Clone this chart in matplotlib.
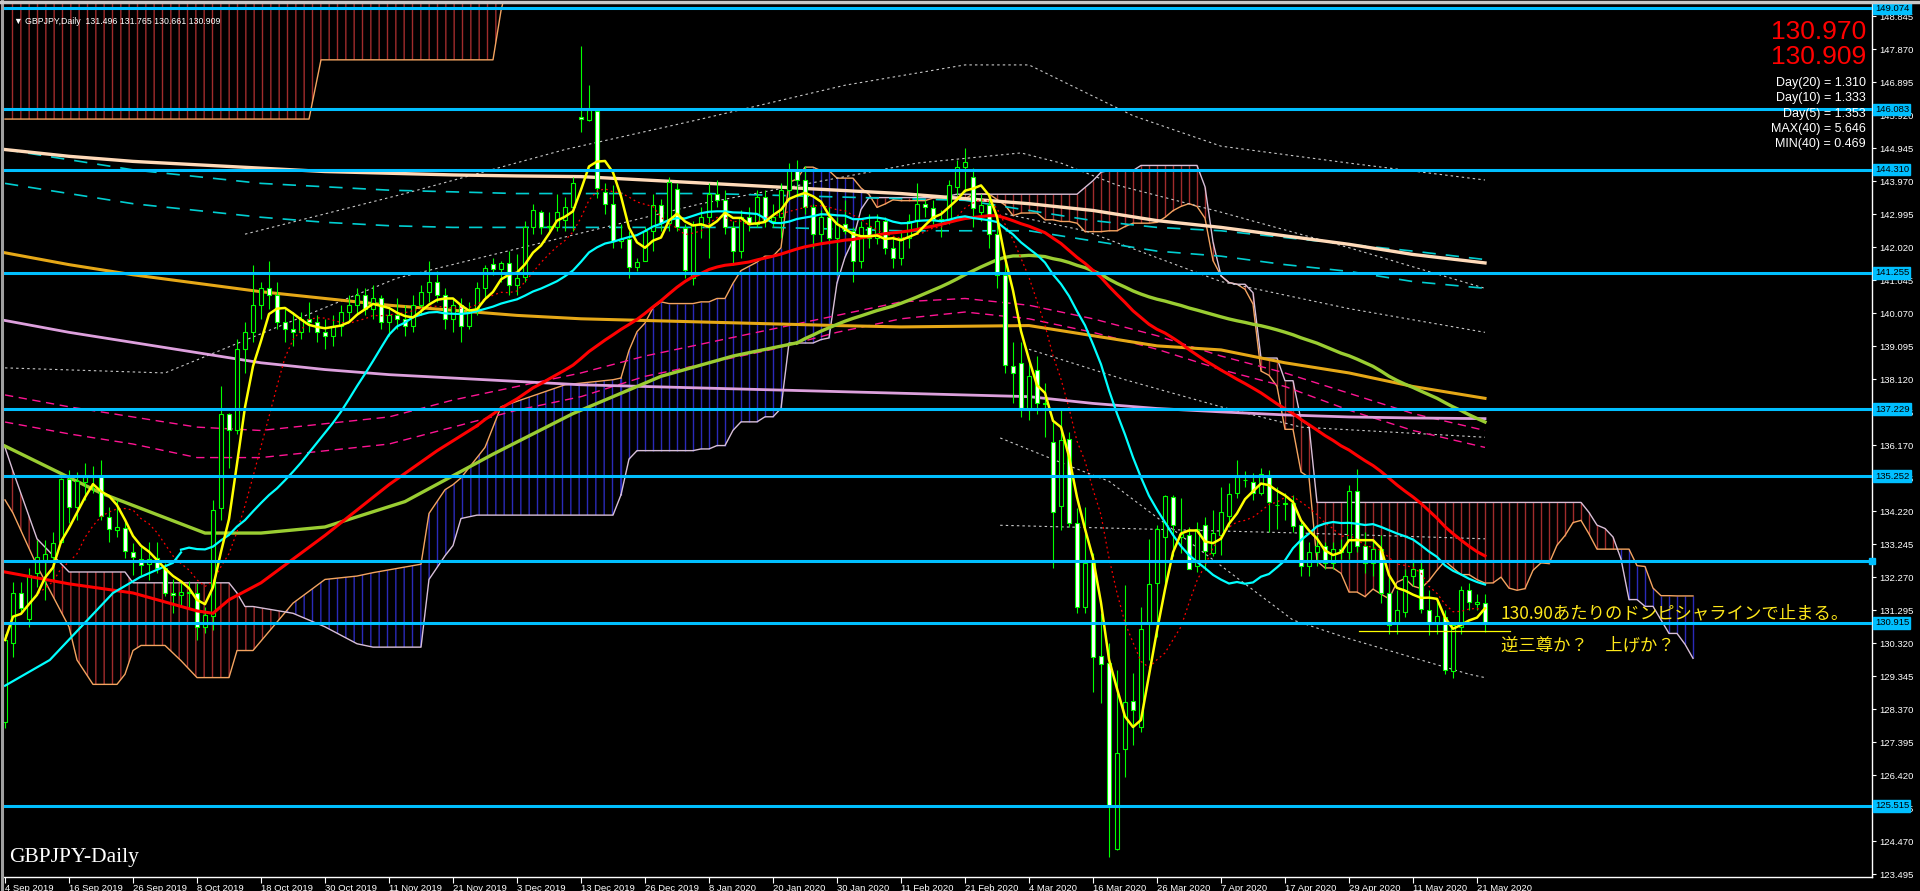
import numpy as np
import pandas as pd
import matplotlib
matplotlib.use('Agg')
import matplotlib.pyplot as plt

# ---------------- data ----------------
holidays = ['2019-12-25', '2020-01-01']
dates = pd.bdate_range('2019-09-04', '2020-05-22')
dates = dates[~dates.isin(pd.to_datetime(holidays))]

opens = [128.0, 130.31, 131.79, 131.03, 132.38, 132.77, 132.87, 133.32, 135.17, 134.35,
         135.09, 135.22, 135.26, 134.05, 133.65, 133.71, 133.02, 132.79, 132.66, 132.84,
         132.53, 131.79, 131.75, 131.84, 131.79, 130.8, 131.12, 134.3, 137.09, 136.62,
         139.0, 139.5, 140.3, 140.8, 140.6, 139.8, 139.6, 139.5, 139.9, 139.8,
         139.5, 139.4, 139.7, 140.1, 140.3, 140.6, 140.2, 140.5, 139.8, 140.0,
         139.9, 139.7, 140.3, 140.7, 141.0, 140.6, 139.9, 140.3, 139.7, 140.2,
         140.8, 141.52, 141.37, 141.55, 140.9, 141.13, 142.62, 143.04, 142.62, 142.6,
         142.82, 143.2, 145.87, 145.77, 146.04, 143.66, 143.29, 142.21, 142.25, 141.44,
         141.62, 142.49, 143.26, 142.74, 143.72, 142.58, 141.1, 142.67, 142.9, 143.6,
         143.4, 142.6, 141.9, 142.9, 142.7, 143.5, 142.8, 142.9, 143.7, 144.3,
         144.0, 143.2, 142.4, 142.9, 142.3, 142.7, 142.5, 141.6, 142.6, 142.3,
         142.8, 142.0, 141.7, 142.3, 142.8, 143.3, 143.16, 142.86, 142.82, 143.8,
         144.39, 144.08, 143.06, 143.26, 142.4, 141.19, 138.5, 138.6, 137.2, 138.4,
         137.4, 136.26, 134.37, 136.35, 133.87, 131.39, 132.72, 129.94, 129.73, 124.24,
         127.19, 128.61, 127.84, 130.91, 132.1, 133.46, 134.64, 133.46, 133.51, 132.6,
         133.81, 132.98, 133.51, 134.07, 134.75, 135.14, 135.08, 134.75, 135.29, 134.4,
         134.43, 134.46, 133.8, 132.6, 133.0, 133.2, 132.7, 133.1, 133.0, 134.8,
         133.2, 132.7, 133.1, 131.8, 130.9, 131.24, 132.3, 132.5, 131.3, 130.88,
         131.09, 129.5, 130.79, 131.9, 131.47, 131.496]
highs = [130.6, 132.12, 132.13, 132.53, 133.37, 133.37, 133.61, 135.19, 135.43, 135.38,
         135.63, 135.54, 135.73, 134.35, 134.55, 133.98, 133.27, 133.17, 133.32, 133.32,
         132.7, 132.22, 132.13, 132.16, 132.08, 131.4, 134.55, 137.9, 137.11, 139.3,
         139.8, 141.5, 141.0, 141.6, 141.0, 140.2, 140.1, 140.1, 140.4, 140.0,
         139.9, 140.0, 140.3, 140.6, 140.8, 140.8, 140.9, 140.6, 140.2, 140.5,
         140.3, 140.6, 140.9, 141.6, 141.3, 140.8, 140.5, 140.5, 140.4, 141.0,
         141.5, 141.7, 141.6, 141.9, 141.8, 142.8, 143.3, 143.1, 143.05, 143.6,
         143.5, 144.1, 147.96, 146.8, 146.04, 143.9, 143.86, 142.7, 142.5, 141.7,
         142.6, 143.6, 143.45, 144.1, 143.9, 142.7, 142.8, 143.2, 143.9, 144.0,
         143.7, 142.8, 143.1, 143.2, 143.7, 143.7, 143.3, 143.9, 144.5, 144.6,
         144.4, 143.3, 143.1, 143.2, 142.9, 143.4, 142.6, 142.8, 143.0, 143.0,
         142.9, 142.3, 142.5, 143.0, 143.9, 143.41, 143.4, 143.1, 144.0, 144.59,
         144.94, 144.35, 143.6, 143.4, 142.9, 141.6, 139.2, 139.2, 138.6, 138.8,
         138.0, 136.86, 137.2, 136.56, 134.3, 134.35, 132.97, 131.2, 130.31, 129.52,
         132.04, 129.43, 131.4, 133.38, 133.81, 134.7, 134.69, 134.6, 133.76, 133.91,
         134.05, 134.25, 134.94, 135.04, 135.73, 135.4, 135.33, 135.48, 135.43, 134.94,
         134.75, 134.7, 133.9, 133.3, 133.5, 133.3, 133.3, 133.4, 135.0, 135.45,
         133.6, 133.4, 133.5, 132.3, 131.9, 132.5, 132.8, 132.8, 131.9, 131.6,
         131.3, 130.9, 132.0, 132.1, 131.77, 131.765]
lows = [127.8, 129.91, 131.2, 130.8, 131.99, 131.6, 132.13, 133.27, 133.86, 133.96,
        134.55, 134.75, 133.96, 133.32, 133.46, 132.82, 132.33, 132.33, 132.18, 132.38,
        131.7, 131.2, 131.4, 131.35, 130.41, 130.61, 130.71, 133.96, 135.48, 136.5,
        138.3, 139.2, 139.9, 140.2, 139.6, 139.2, 139.1, 139.3, 139.5, 139.2,
        139.0, 139.1, 139.4, 139.8, 140.0, 140.0, 139.9, 139.6, 139.4, 139.6,
        139.4, 139.5, 140.0, 140.4, 140.4, 139.6, 139.5, 139.2, 139.6, 140.0,
        140.5, 141.2, 141.0, 140.6, 140.6, 141.0, 142.4, 142.4, 142.5, 142.5,
        142.5, 142.5, 145.43, 145.73, 143.46, 143.0, 141.98, 142.0, 141.1, 141.3,
        141.6, 141.9, 142.5, 142.5, 142.5, 141.1, 140.9, 142.3, 141.7, 143.2,
        142.4, 141.5, 141.7, 142.5, 142.6, 142.6, 142.6, 142.3, 143.4, 143.5,
        143.0, 142.0, 142.1, 142.1, 141.2, 142.4, 141.0, 141.4, 142.0, 142.1,
        141.8, 141.4, 141.5, 142.0, 142.5, 142.92, 142.7, 142.33, 142.7, 143.56,
        143.66, 142.62, 142.8, 142.0, 140.8, 138.3, 137.4, 137.0, 136.9, 137.1,
        136.4, 132.54, 133.66, 133.76, 131.2, 131.2, 128.88, 128.56, 124.01, 124.2,
        126.37, 127.3, 127.7, 129.82, 130.51, 132.04, 132.9, 132.98, 132.5, 132.43,
        132.48, 132.9, 132.92, 133.76, 134.6, 134.92, 134.54, 134.7, 133.61, 133.7,
        133.96, 133.6, 132.3, 132.3, 132.6, 132.5, 132.5, 132.8, 132.8, 133.0,
        132.4, 132.3, 131.5, 130.6, 130.6, 131.1, 132.0, 131.2, 130.55, 130.6,
        129.4, 129.3, 130.6, 131.3, 131.3, 130.661]
closes = [130.41, 131.79, 131.35, 132.33, 132.85, 132.94, 133.29, 135.16, 134.35, 135.11,
          135.22, 135.24, 134.08, 133.68, 133.76, 133.05, 132.85, 132.63, 132.81, 132.53,
          131.79, 131.75, 131.84, 131.8, 130.8, 131.15, 134.25, 137.08, 136.62, 139.0,
          139.5, 140.3, 140.8, 140.6, 139.8, 139.6, 139.5, 139.9, 139.8, 139.5,
          139.4, 139.7, 140.1, 140.3, 140.6, 140.2, 140.5, 139.8, 140.0, 139.9,
          139.7, 140.3, 140.7, 141.0, 140.6, 139.9, 140.3, 139.7, 140.2, 140.8,
          141.4, 141.37, 141.55, 140.9, 141.1, 142.62, 143.1, 142.6, 142.64, 143.04,
          143.2, 143.9, 145.79, 146.07, 143.76, 143.29, 142.21, 142.26, 141.44, 141.59,
          142.49, 143.26, 142.72, 143.95, 142.6, 141.34, 142.67, 142.9, 143.6, 143.4,
          142.6, 141.9, 142.9, 142.7, 143.5, 142.8, 142.9, 143.7, 144.3, 144.0,
          143.2, 142.4, 142.9, 142.3, 142.7, 142.5, 141.6, 142.6, 142.3, 142.8,
          142.0, 141.7, 142.3, 142.8, 143.3, 143.21, 142.84, 142.8, 143.85, 144.39,
          144.54, 143.16, 143.26, 142.4, 141.19, 138.53, 138.3, 137.26, 138.2, 137.4,
          137.38, 134.19, 136.32, 133.87, 131.39, 132.69, 129.9, 129.7, 125.5, 127.07,
          128.58, 128.35, 130.74, 132.07, 133.7, 134.67, 133.81, 133.54, 132.51, 133.7,
          133.04, 133.57, 134.19, 134.72, 135.23, 135.14, 134.75, 135.32, 134.49, 134.4,
          134.45, 133.78, 132.6, 133.0, 133.2, 132.7, 133.1, 133.0, 134.8, 133.2,
          132.7, 133.1, 131.8, 130.85, 131.3, 132.3, 132.5, 131.33, 130.88, 131.12,
          129.53, 130.85, 131.9, 131.54, 131.54, 130.909]

date_labels = ['4 Sep 2019', '16 Sep 2019', '26 Sep 2019', '8 Oct 2019', '18 Oct 2019',
               '30 Oct 2019', '11 Nov 2019', '21 Nov 2019', '3 Dec 2019', '13 Dec 2019',
               '26 Dec 2019', '8 Jan 2020', '20 Jan 2020', '30 Jan 2020', '11 Feb 2020',
               '21 Feb 2020', '4 Mar 2020', '16 Mar 2020', '26 Mar 2020', '7 Apr 2020',
               '17 Apr 2020', '29 Apr 2020', '11 May 2020', '21 May 2020']
price_ticks = [148.845 - 0.975 * k for k in range(27)]

levels = [149.074, 146.083, 144.310, 141.255, 137.229, 135.252, 132.745, 130.915, 125.515]
level_tags = ['149.074', '146.083', '144.310', '141.255', '137.229', '135.252', '', '130.915', '125.515']

# left ends of the averages (their history lies before the first bar)
cyan_early_idx = [0, 5.6, 13.5, 16.9, 21, 22]
cyan_early = [129.06, 129.82, 131.8, 132.27, 132.69, 133.0]
red_early_idx = [0, 8, 16, 24, 26, 28, 32, 40, 48, 54, 59]
red_early = [132.42, 132.07, 131.8, 131.27, 131.2, 131.6, 132.1, 133.5, 135.0, 136.0, 136.74]
green_early_idx = [0, 12, 25, 32, 40, 50, 61, 71, 82, 91, 99]
green_early = [136.14, 134.75, 133.57, 133.57, 133.75, 134.5, 135.9, 137.1, 138.2, 138.8, 139.19]

# long averages and envelopes
ma_idx = [0, 8, 16, 24, 32, 40, 48, 56, 64, 72, 80, 88, 96, 104, 112, 120,
          128, 136, 144, 152, 160, 168, 176, 185]
orange_ma = [141.85, 141.5, 141.2, 140.95, 140.7, 140.5, 140.3, 140.15, 140.0, 139.9, 139.85, 139.8,
             139.75, 139.7, 139.66, 139.68, 139.7, 139.4, 139.1, 138.98, 138.6, 138.3, 137.9, 137.55]
pink_ma = [139.85, 139.5, 139.2, 138.9, 138.6, 138.4, 138.25, 138.15, 138.05, 137.95, 137.9, 137.85,
           137.8, 137.75, 137.7, 137.65, 137.6, 137.4, 137.25, 137.15, 137.06, 137.0, 136.97, 136.95]
cream_ma = [144.9, 144.7, 144.55, 144.45, 144.35, 144.25, 144.2, 144.15, 144.12, 144.1, 144.0, 143.9,
            143.8, 143.7, 143.6, 143.45, 143.3, 143.1, 142.8, 142.6, 142.35, 142.1, 141.8, 141.55]
teal_dash_a = [144.9, 144.6, 144.3, 144.1, 143.9, 143.8, 143.7, 143.65, 143.6, 143.6, 143.6, 143.6,
               143.55, 143.5, 143.45, 143.4, 143.1, 142.8, 142.6, 142.5, 142.3, 142.1, 141.9, 141.65]
teal_dash_b = [143.9, 143.6, 143.3, 143.1, 142.9, 142.75, 142.65, 142.6, 142.6, 142.6, 142.6, 142.6,
               142.6, 142.55, 142.5, 142.5, 142.5, 142.2, 141.9, 141.75, 141.5, 141.3, 141.0, 140.8]
pink_dash_a = [137.65, 137.3, 137.0, 136.7, 136.6, 136.8, 137.0, 137.5, 137.9, 138.3, 138.8, 139.2,
               139.6, 140.0, 140.4, 140.5, 140.3, 139.9, 139.4, 138.8, 138.3, 137.7, 137.1, 136.6]
pink_dash_b = [136.85, 136.5, 136.2, 135.8, 135.8, 136.0, 136.2, 136.7, 137.2, 137.6, 138.2, 138.6,
               139.0, 139.5, 139.9, 140.1, 139.9, 139.5, 139.0, 138.4, 137.9, 137.2, 136.6, 136.1]

# grey dotted bands
band_top_idx = [30, 50, 70, 87, 105, 120, 128, 141, 152, 168, 185]
band_top = [142.4, 143.6, 144.9, 145.8, 146.8, 147.4, 147.4, 145.9, 145.0, 144.5, 144.0]
band_mid_idx = [0, 20, 49, 87, 114, 127, 132, 139, 152, 168, 185]
band_mid = [138.45, 138.3, 141.1, 143.3, 144.5, 144.8, 144.5, 143.85, 143.05, 142.0, 140.8]
band_b_idx = [125, 135, 152, 168, 185]
band_b = [143.0, 142.5, 141.0, 140.2, 139.5]
band_c_idx = [128, 140, 152, 162, 185]
band_c = [139.0, 138.1, 137.3, 136.7, 136.4]
band_low_idx = [124.4, 133.6, 138, 161, 168, 183, 185]
band_low = [136.38, 135.5, 135.1, 131.0, 130.45, 129.4, 129.3]
band_flat_idx = [124.4, 162, 185]
band_flat = [133.8, 133.57, 133.4]

# cloud edges before the spans can be taken from the bars
early_cloud_idx = [0, 1, 4, 8, 9, 11, 14, 15, 16, 17, 20, 22, 24, 28, 29, 30, 31, 36, 40,
                   44, 46, 52, 53, 55, 56, 57, 59, 60, 62, 70, 76, 77]
early_span_a = [134.55, 134.16, 132.6, 130.8, 129.82, 129.1, 129.1, 129.4, 130.1, 130.25,
                130.25, 129.8, 129.3, 129.3, 130.1, 130.1, 130.1, 131.5, 132.2, 132.3,
                132.4, 132.65, 134.15, 134.85, 135.0, 135.2, 135.8, 136.1, 137.3, 137.95,
                138.1, 138.15]
early_span_b = [136.1, 135.4, 133.4, 132.42, 132.42, 132.42, 132.42, 132.42, 132.1, 132.1,
                132.1, 132.1, 132.1, 132.1, 131.8, 131.4, 131.4, 131.2, 130.8, 130.3,
                130.2, 130.2, 132.2, 132.9, 133.2, 134.0, 134.1, 134.1, 134.1, 134.1,
                134.1, 134.7]
# long-period cloud at the top left (upper edge above the chart)
long_idx = [0, 38, 39.5, 61, 62, 63]
long_low = [145.8, 145.8, 147.55, 147.55, 149.0, 150.0]
long_high = [150.0, 150.0, 150.0, 150.0, 150.0, 150.0]

neck_idx = [169.25, 188.1]
neck_price = [130.68, 130.68]

# ---------------- derived indicators ----------------
n = len(closes)
x = np.arange(n)
o = np.array(opens)
h = np.array(highs)
l = np.array(lows)
c = np.array(closes)
cs = pd.Series(closes)
hs = pd.Series(highs)
ls_ = pd.Series(lows)

sma5 = cs.rolling(5, min_periods=1).mean()
sma10 = cs.rolling(10, min_periods=1).mean()
sma23 = cs.rolling(23).mean()
sma60 = cs.rolling(60).mean()
sma100 = cs.rolling(100).mean()

tenkan = (hs.rolling(9).max() + ls_.rolling(9).min()) / 2
kijun = (hs.rolling(26).max() + ls_.rolling(26).min()) / 2
senkou_a = ((tenkan + kijun) / 2).to_numpy()
senkou_b = ((hs.rolling(52).max() + ls_.rolling(52).min()) / 2).to_numpy()
span_x = np.arange(n) + 26
keep = span_x >= 77
span_x = span_x[keep]
span_a = senkou_a[keep]
span_b = senkou_b[keep]

# ---------------- figure ----------------
W, H = 1920, 891
fig = plt.figure(figsize=(W / 100, H / 100), dpi=100, facecolor='black')
ax = fig.add_axes([4 / W, 14 / H, 1868 / W, 873 / H])
ax.set_facecolor('black')


def price_at(y):
    return 148.845 - (y - 16) / 33.85


ax.set_xlim(-0.125, 233.375)
ax.set_ylim(price_at(877), price_at(4))

red_hatch = '#A02C2C'
blue_hatch = '#2A2AB8'
sandy = '#F4A460'
thistle = '#D8BFD8'
plt.rcParams['hatch.linewidth'] = 1.0

ea = np.array(early_span_a)
eb = np.array(early_span_b)
ax.fill_between(early_cloud_idx, ea, eb, where=eb >= ea, interpolate=True, facecolor='none',
                edgecolor=red_hatch, hatch='||', linewidth=0, zorder=1)
ax.fill_between(early_cloud_idx, ea, eb, where=ea > eb, interpolate=True, facecolor='none',
                edgecolor=blue_hatch, hatch='||', linewidth=0, zorder=1)
ax.plot(early_cloud_idx, ea, color=sandy, lw=1, zorder=2)
ax.plot(early_cloud_idx, eb, color=thistle, lw=1, zorder=2)

bear = span_b >= span_a
ax.vlines(span_x[bear], span_a[bear], span_b[bear], color=red_hatch, lw=1, zorder=1)
ax.vlines(span_x[~bear], span_a[~bear], span_b[~bear], color=blue_hatch, lw=1, zorder=1)
ax.plot(span_x, span_a, color=sandy, lw=1, zorder=2)
ax.plot(span_x, span_b, color=thistle, lw=1, zorder=2)

ax.fill_between(long_idx, long_low, long_high, facecolor='none', edgecolor=red_hatch,
                hatch='||', linewidth=0, zorder=1)
ax.plot(long_idx, long_low, color=sandy, lw=1, zorder=2)

dot = dict(color='#C8C8C8', lw=0.8, ls=(0, (2.2, 2.8)), zorder=2)
ax.plot(band_top_idx, band_top, **dot)
ax.plot(band_mid_idx, band_mid, **dot)
ax.plot(band_b_idx, band_b, **dot)
ax.plot(band_c_idx, band_c, **dot)
ax.plot(band_low_idx, band_low, **dot)
ax.plot(band_flat_idx, band_flat, **dot)

mi = np.array(ma_idx)
ax.plot(mi, pink_dash_a, color='#FF1493', lw=1, ls=(0, (6, 4)), zorder=3)
ax.plot(mi, pink_dash_b, color='#FF1493', lw=1, ls=(0, (6, 4)), zorder=3)
ax.plot(mi, teal_dash_a, color='#00CED1', lw=1.2, ls=(0, (8, 6)), zorder=3)
ax.plot(mi, teal_dash_b, color='#00CED1', lw=1.2, ls=(0, (8, 6)), zorder=3)
ax.plot(mi, cream_ma, color='#FFDAB9', lw=2.4, zorder=3)
ax.plot(mi, pink_ma, color='#DDA0DD', lw=2.0, zorder=3)
ax.plot(mi, orange_ma, color='#E6A817', lw=2.2, zorder=3)
ax.plot(green_early_idx, green_early, color='#9ACD32', lw=2.4, zorder=3)
ax.plot(x, sma100, color='#9ACD32', lw=2.4, zorder=3)

# candles
up = c >= o
ax.vlines(x, l, h, color='#00FF00', lw=0.8, zorder=4)
body_lo = np.minimum(o, c)
body_h = np.abs(c - o)
ax.bar(x[up], body_h[up], bottom=body_lo[up], width=0.62, facecolor='black',
       edgecolor='#00FF00', linewidth=0.8, zorder=5)
ax.bar(x[~up], body_h[~up], bottom=body_lo[~up], width=0.62, facecolor='white',
       edgecolor='#00FF00', linewidth=0.8, zorder=5)

ax.plot(x, sma10, color='#FF0000', lw=0.9, ls=(0, (1.5, 2.5)), zorder=6)
ax.plot(red_early_idx, red_early, color='#FF0000', lw=2.2, zorder=6)
ax.plot(x, sma60, color='#FF0000', lw=2.2, zorder=6)
ax.plot(cyan_early_idx, cyan_early, color='#00FFFF', lw=1.6, zorder=6)
ax.plot(x, sma23, color='#00FFFF', lw=1.6, zorder=6)
ax.plot(x, sma5, color='#FFFF00', lw=1.8, zorder=6)

# horizontal levels
for lv, tag in zip(levels, level_tags):
    ax.axhline(lv, color='#00BFFF', lw=2.2, zorder=7)
    if tag:
        ax.text(1.0015, lv, tag, transform=ax.get_yaxis_transform(), color='black',
                fontsize=6.8, family='Liberation Sans', va='center', ha='left', zorder=9,
                bbox=dict(boxstyle='square,pad=0.15', facecolor='#00BFFF', edgecolor='#00BFFF'),
                clip_on=False)
    else:
        ax.plot([1.0], [lv], marker='s', ms=4, color='#00BFFF',
                transform=ax.get_yaxis_transform(), clip_on=False, zorder=9)

ax.plot(neck_idx, neck_price, color='#FFFF00', lw=0.9, zorder=7)

# axes styling
for side in ['left', 'top']:
    ax.spines[side].set_visible(False)
for side in ['right', 'bottom']:
    ax.spines[side].set_color('white')
    ax.spines[side].set_linewidth(1)
ax.yaxis.tick_right()
ax.set_yticks(price_ticks)
ax.set_yticklabels(['%.3f' % p for p in price_ticks])
ax.tick_params(axis='y', colors='white', labelsize=6.8, length=3, width=0.8, pad=2)
ax.set_xticks(range(0, 185, 8))
ax.set_xticklabels(date_labels)
ax.tick_params(axis='x', colors='white', labelsize=6.8, length=4, width=0.8, pad=1)
for lab in ax.get_xticklabels() + ax.get_yticklabels():
    lab.set_family('Liberation Sans')
for lab in ax.get_xticklabels():
    lab.set_ha('left')

# texts
ax.text(0.0055, 0.985, '\u25bc GBPJPY,Daily  131.496 131.765 130.661 130.909',
        transform=ax.transAxes, color='white', fontsize=6.3, family='Liberation Sans',
        va='top', ha='left', zorder=10)
ax.text(0.003, 0.012, 'GBPJPY-Daily', transform=ax.transAxes, color='white',
        fontsize=15.5, family='Liberation Serif', va='bottom', ha='left', zorder=10)

fig.text(1866 / W, 1 - 32 / H, '130.970', color='#FF0000', fontsize=19,
         family='Liberation Sans', ha='right', va='center')
fig.text(1866 / W, 1 - 57 / H, '130.909', color='#FF0000', fontsize=19,
         family='Liberation Sans', ha='right', va='center')
info = ['Day(20) = 1.310', 'Day(10) = 1.333', 'Day(5) = 1.353', 'MAX(40) = 5.646', 'MIN(40) = 0.469']
for k, s in enumerate(info):
    fig.text(1866 / W, 1 - (83 + 15.3 * k) / H, s, color='white', fontsize=9,
             family='Liberation Sans', ha='right', va='center')

jp = ['Noto Sans CJK JP', 'DejaVu Sans']
fig.text(1501 / W, 1 - 613 / H, '130.90あたりのドンピシャラインで止まる。', color='#FFE81A',
         fontsize=12.5, family=jp, ha='left', va='center')
fig.text(1501 / W, 1 - 645 / H, '逆三尊か？　上げか？', color='#FFE81A',
         fontsize=12.5, family=jp, ha='left', va='center')

# window frame
fig.add_artist(plt.Line2D([1.5 / W, 1.5 / W], [0, 1], color='#A0A0A0', lw=2.2))
fig.add_artist(plt.Line2D([0, 1], [1 - 1.5 / H, 1 - 1.5 / H], color='#C8C8C8', lw=2.5))

fig.savefig('out.png', dpi=100, facecolor='black')
